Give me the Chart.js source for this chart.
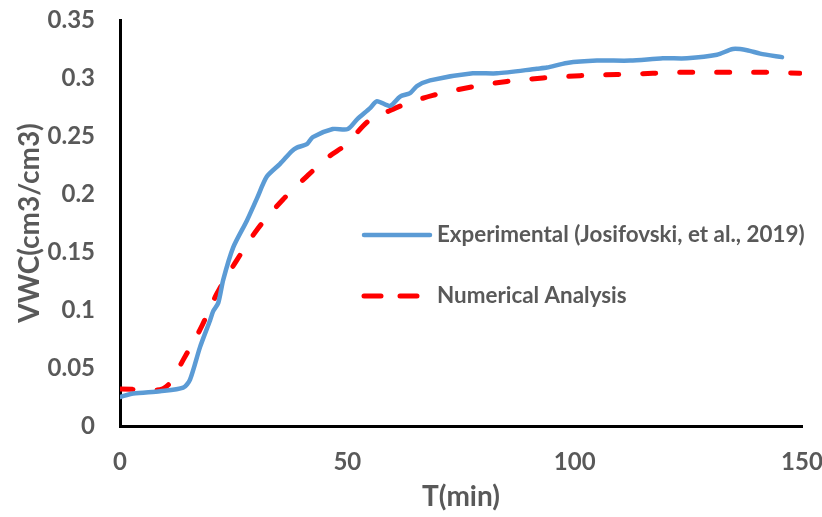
<!DOCTYPE html>
<html>
<head>
<meta charset="utf-8">
<script src="https://cdn.jsdelivr.net/npm/chart.js@4.4.1/dist/chart.umd.min.js"></script>
<style>
  html, body { margin: 0; padding: 0; background: #ffffff; }
  #wrap { width: 822px; height: 517px; }
</style>
</head>
<body>
<div id="wrap"><canvas id="vwcChart" width="822" height="517"></canvas></div>
<script>
// Experimental VWC readings (Josifovski, et al., 2019)
const expTime = [0, 2.9, 8.8, 13.9, 15.4, 17.6, 19.8, 20.5, 21.6, 22.7, 24.9, 27.9, 30.1, 32.3,
  35.2, 37.8, 38.9, 41.1, 42.4, 46.8, 50.1, 52.3, 55.0, 56.5, 59.4, 61.6, 63.8, 65.3, 68.2,
  77.6, 82.9, 91.7, 93.9, 98.3, 104.9, 112.2, 119.4, 124.7, 131.3, 134.8, 137.9, 140.8, 145.6];
const expVWC = [0.025, 0.028, 0.030, 0.033, 0.040, 0.068, 0.091, 0.099, 0.106, 0.126, 0.154, 0.177, 0.196, 0.215,
  0.226, 0.237, 0.240, 0.243, 0.249, 0.256, 0.256, 0.265, 0.274, 0.280, 0.276, 0.284, 0.287, 0.293, 0.298,
  0.304, 0.304, 0.308, 0.309, 0.313, 0.315, 0.315, 0.317, 0.317, 0.320, 0.325, 0.324, 0.321, 0.318];

// Numerical model output
const numTime = [0, 8.1, 11.0, 13.9, 17.6, 21.3, 25.7, 30.1, 35.8, 41.3, 46.2, 49.5, 55.0, 59.4,
  63.1, 68.8, 77.0, 85.1, 93.0, 101.2, 109.3, 117.2, 125.4, 133.5, 141.4, 149.5];
const numVWC = [0.032, 0.031, 0.037, 0.057, 0.083, 0.114, 0.143, 0.169, 0.195, 0.216, 0.233, 0.242, 0.264, 0.272,
  0.278, 0.285, 0.292, 0.297, 0.300, 0.302, 0.303, 0.304, 0.305, 0.305, 0.305, 0.304];

const seriesNames = ['Experimental (Josifovski, et al., 2019)', 'Numerical Analysis'];
const xTicks = [0, 50, 100, 150];
const yTicks = [0, 0.05, 0.1, 0.15, 0.2, 0.25, 0.3, 0.35];

const FONT = "Lato, 'Open Sans', sans-serif";
const TEXT = '#595959';

const toPoints = (xs, ys) => xs.map((x, i) => ({ x: x, y: ys[i] }));

// legend sits inside the plot, to the right of the curves
const insideLegend = {
  id: 'insideLegend',
  afterDraw(chart) {
    const ctx = chart.ctx;
    const area = chart.chartArea;
    const x0 = area.left + 244;
    const rows = [area.top + 215, area.top + 276];
    ctx.save();
    chart.data.datasets.forEach((ds, i) => {
      const y = rows[i];
      ctx.beginPath();
      ctx.strokeStyle = ds.borderColor;
      ctx.lineWidth = ds.borderWidth;
      ctx.lineCap = 'round';
      ctx.setLineDash(i === 1 ? [17, 19] : []);
      ctx.moveTo(x0, y);
      ctx.lineTo(x0 + 66, y);
      ctx.stroke();
      ctx.setLineDash([]);
      ctx.fillStyle = TEXT;
      ctx.font = 'bold 22.4px ' + FONT;
      ctx.textBaseline = 'middle';
      ctx.textAlign = 'left';
      ctx.fillText(ds.label, x0 + 73, y);
    });
    ctx.restore();
  }
};

new Chart(document.getElementById('vwcChart'), {
  type: 'line',
  data: {
    datasets: [{
      label: seriesNames[0],
      data: toPoints(expTime, expVWC),
      borderColor: '#5B9BD5',
      borderWidth: 4.5,
      pointRadius: 0,
      tension: 0.25,
      borderCapStyle: 'round',
      borderJoinStyle: 'round'
    }, {
      label: seriesNames[1],
      data: toPoints(numTime, numVWC),
      borderColor: '#FF0000',
      borderWidth: 5,
      pointRadius: 0,
      cubicInterpolationMode: 'monotone',
      borderDash: [13, 24],
      borderCapStyle: 'round'
    }]
  },
  options: {
    responsive: false,
    animation: false,
    layout: { padding: { top: 20, right: 20, left: 0, bottom: 0 } },
    plugins: {
      legend: { display: false },
      tooltip: { enabled: false }
    },
    scales: {
      x: {
        type: 'linear',
        min: 0,
        max: 150,
        afterBuildTicks: (scale) => { scale.ticks = xTicks.map(v => ({ value: v })); },
        afterFit: (scale) => {
          scale.height = 91;
          scale.paddingLeft = 0;
          scale.paddingRight = 0;
        },
        grid: { display: false, drawTicks: false },
        border: { display: true, color: '#000000', width: 3 },
        ticks: { color: TEXT, padding: 22, font: { family: FONT, size: 24, weight: 'bold' } },
        title: {
          display: true,
          text: 'T(min)',
          color: TEXT,
          padding: { top: 3, bottom: 3 },
          font: { family: FONT, size: 28, weight: 'bold' }
        }
      },
      y: {
        min: 0,
        max: 0.35,
        afterBuildTicks: (scale) => { scale.ticks = yTicks.map(v => ({ value: v })); },
        afterFit: (scale) => {
          scale.width = 120;
          scale.paddingTop = 0;
          scale.paddingBottom = 0;
        },
        grid: { display: false, drawTicks: false },
        border: { display: true, color: '#000000', width: 3 },
        ticks: {
          color: TEXT,
          padding: 25,
          font: { family: FONT, size: 24, weight: 'bold' },
          callback: (v) => String(+v.toFixed(2))
        },
        title: {
          display: true,
          text: 'VWC(cm3/cm3)',
          color: TEXT,
          padding: { top: 13, bottom: 13 },
          font: { family: FONT, size: 28, weight: 'bold' }
        }
      }
    }
  },
  plugins: [insideLegend]
});
</script>
</body>
</html>
